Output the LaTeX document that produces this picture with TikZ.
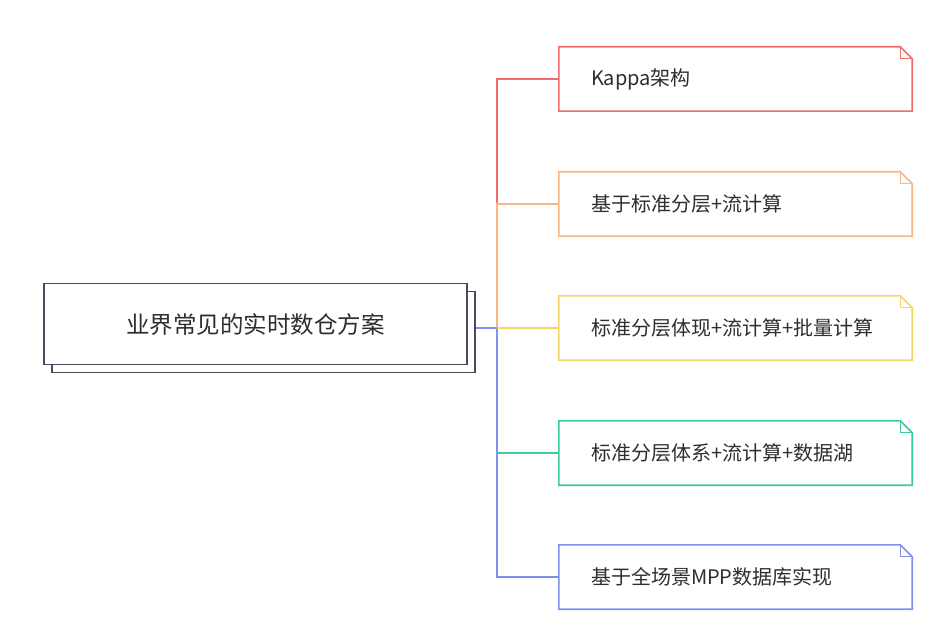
\documentclass[tikz,border=0pt]{standalone}
\usepackage{fontspec}
\newfontfamily\cjk{Noto Sans CJK SC}
\usetikzlibrary{calc}
\definecolor{cRed}{HTML}{F26D6D}
\definecolor{cOrange}{HTML}{F8B585}
\definecolor{cYellow}{HTML}{F5D766}
\definecolor{cGreen}{HTML}{3DCB9C}
\definecolor{cBlue}{HTML}{7C92EE}
\definecolor{cMain}{HTML}{4B4B5C}
\definecolor{cText}{HTML}{2E2E2E}
\tikzset{
  childbox/.style={draw=none, minimum width=353pt, minimum height=64pt, inner sep=0pt},
  childtxt/.style={anchor=west, inner sep=0pt, text=cText, font=\cjk\fontsize{20}{24}\selectfont},
  mainbox/.style={draw=cMain, line width=1.6pt, fill=white, minimum width=423pt, minimum height=81pt, inner sep=0pt},
  maintxt/.style={inner sep=0pt, text=cText, font=\cjk\fontsize{23.5}{28}\selectfont},
  conn/.style={line width=1.5pt},
  noteline/.style={line width=1.6pt, line join=miter},
}
\newcommand{\notebox}[2]{%
  \draw[noteline, draw=#2] (#1.south west) -- (#1.north west) -- ($(#1.north east)+(-12,0)$) -- ($(#1.north east)+(0,12)$) -- (#1.south east) -- cycle;
  \draw[noteline, draw=#2, line width=1.2pt] ($(#1.north east)+(-12,0)$) -- ($(#1.north east)+(-12,12)$) -- ($(#1.north east)+(0,12)$);
}
\begin{document}
\begin{tikzpicture}[x=1pt,y=-1pt]
\useasboundingbox (0,0) rectangle (936,620);
\fill[white] (0,0) rectangle (936,620);

% main node with shadow
\node[mainbox] (mainsh) at (263.5,332) {};
\node[mainbox] (main) at (255.5,324) {};
\node[maintxt] (maint) at ($(main.center)+(0,1)$) {业界常见的实时数仓方案};

% child boxes
\node[childbox] (k1) at (735.5,79) {};
\node[childbox] (k2) at (735.5,204) {};
\node[childbox] (k3) at (735.5,328) {};
\node[childbox] (k4) at (735.5,453) {};
\node[childbox] (k5) at (735.5,577) {};

\node[childtxt] (t1) at ($(k1.west)+(32,0)$) {Kappa架构};
\node[childtxt] (t2) at ($(k2.west)+(32,0)$) {基于标准分层+流计算};
\node[childtxt] (t3) at ($(k3.west)+(32,0)$) {标准分层体现+流计算+批量计算};
\node[childtxt] (t4) at ($(k4.west)+(32,0)$) {标准分层体系+流计算+数据湖};
\node[childtxt] (t5) at ($(k5.west)+(32,0)$) {基于全场景MPP数据库实现};

% connectors
\coordinate (j) at (497,328);
\draw[conn, cRed] (mainsh.east |- j) -- (j) |- (k1.west);
\draw[conn, cOrange] (mainsh.east |- j) -- (j) |- (k2.west);
\draw[conn, cYellow] (mainsh.east |- j) -- (j) |- (k3.west);
\draw[conn, cGreen] (mainsh.east |- j) -- (j) |- (k4.west);
\draw[conn, cBlue] (mainsh.east |- j) -- (j) |- (k5.west);
\draw[conn, cYellow] (j) -- (k3.west);

\notebox{k1}{cRed}
\notebox{k2}{cOrange}
\notebox{k3}{cYellow}
\notebox{k4}{cGreen}
\notebox{k5}{cBlue}
\end{tikzpicture}
\end{document}
